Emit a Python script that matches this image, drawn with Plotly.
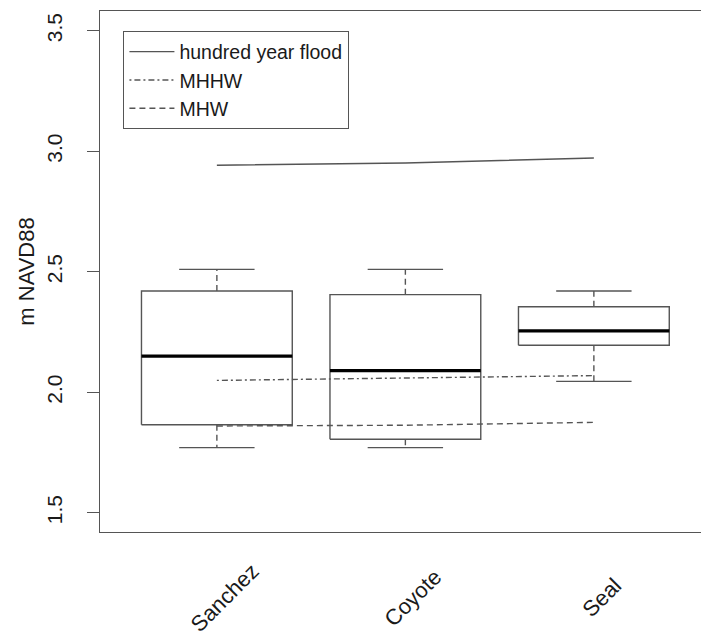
import plotly.graph_objects as go

# ---- data ----
sites = ["Sanchez", "Coyote", "Seal"]
site_x = [1, 2, 3]
whisker_low = [1.77, 1.77, 2.045]
q1 = [1.865, 1.805, 2.195]
median = [2.15, 2.09, 2.255]
q3 = [2.42, 2.405, 2.355]
whisker_high = [2.51, 2.51, 2.42]

flood = [2.942, 2.951, 2.972]
mhhw = [2.049, 2.059, 2.069]
mhw = [1.860, 1.863, 1.875]

y_ticks = [1.5, 2.0, 2.5, 3.0, 3.5]
y_tick_labels = ["1.5", "2.0", "2.5", "3.0", "3.5"]

# ---- styles ----
FONT = "Liberation Sans, Arial, Helvetica, sans-serif"
LINE = "#555555"
HALF_BOX = 0.4
HALF_STAPLE = 0.2

fig = go.Figure()

# boxes
bx, by = [], []
for x, lo, hi in zip(site_x, q1, q3):
    bx += [x - HALF_BOX, x + HALF_BOX, x + HALF_BOX, x - HALF_BOX, x - HALF_BOX, None]
    by += [lo, lo, hi, hi, lo, None]
fig.add_trace(go.Scatter(x=bx, y=by, mode="lines", line=dict(color=LINE, width=1.4),
                         showlegend=False, hoverinfo="skip"))

# whiskers (dashed)
wx, wy = [], []
for x, a, b, c, d in zip(site_x, q3, whisker_high, q1, whisker_low):
    wx += [x, x, None, x, x, None]
    wy += [a, b, None, c, d, None]
fig.add_trace(go.Scatter(x=wx, y=wy, mode="lines",
                         line=dict(color=LINE, width=1.4, dash="6px,4px"),
                         showlegend=False, hoverinfo="skip"))

# staples
sx, sy = [], []
for x, hi, lo in zip(site_x, whisker_high, whisker_low):
    sx += [x - HALF_STAPLE, x + HALF_STAPLE, None, x - HALF_STAPLE, x + HALF_STAPLE, None]
    sy += [hi, hi, None, lo, lo, None]
fig.add_trace(go.Scatter(x=sx, y=sy, mode="lines", line=dict(color=LINE, width=1.4),
                         showlegend=False, hoverinfo="skip"))

# medians
mx, my = [], []
for x, m in zip(site_x, median):
    mx += [x - HALF_BOX, x + HALF_BOX, None]
    my += [m, m, None]
fig.add_trace(go.Scatter(x=mx, y=my, mode="lines", line=dict(color="#000000", width=3.2),
                         showlegend=False, hoverinfo="skip"))

# reference lines
fig.add_trace(go.Scatter(x=site_x, y=flood, mode="lines", name="hundred year flood",
                         line=dict(color=LINE, width=1.4)))
fig.add_trace(go.Scatter(x=site_x, y=mhhw, mode="lines", name="MHHW",
                         line=dict(color=LINE, width=1.4, dash="2px,3px,6px,3px")))
fig.add_trace(go.Scatter(x=site_x, y=mhw, mode="lines", name="MHW",
                         line=dict(color=LINE, width=1.4, dash="6px,4px")))

# rotated category labels
for x, s in zip(site_x, sites):
    fig.add_annotation(x=x, y=-0.126, xref="x", yref="paper", text=s,
                       textangle=-45, showarrow=False, xshift=8,
                       xanchor="center", yanchor="middle",
                       font=dict(family=FONT, size=22, color="#1a1a1a"))

fig.update_layout(
    width=701, height=637,
    margin=dict(l=100, r=0, t=11, b=105),
    paper_bgcolor="white", plot_bgcolor="white",
    font=dict(family=FONT, color="#1a1a1a"),
    showlegend=True,
    legend=dict(x=0.0383, y=0.9616, xanchor="left", yanchor="top",
                bordercolor=LINE, borderwidth=1.4, bgcolor="white",
                font=dict(family=FONT, size=19.5, color="#1a1a1a"),
                itemwidth=45, tracegroupgap=0),
    xaxis=dict(range=[0.38, 0.38 + 601 / 188.5], showgrid=False, zeroline=False,
               showticklabels=False, ticks="", showline=True, mirror=True,
               linecolor=LINE, linewidth=1.4, fixedrange=True),
    yaxis=dict(range=[1.42, 3.582], showgrid=False, zeroline=False,
               tickvals=y_ticks, ticktext=y_tick_labels, tickangle=-90,
               ticks="outside", ticklen=12, tickcolor=LINE, tickwidth=1.4,
               ticklabelstandoff=16,
               tickfont=dict(family=FONT, size=21, color="#1a1a1a"),
               showline=True, mirror=False, linecolor=LINE, linewidth=1.4,
               title=dict(text="m NAVD88", standoff=2,
                          font=dict(family=FONT, size=22, color="#1a1a1a")),
               automargin=False, fixedrange=True),
)

fig.write_html("out.html")
